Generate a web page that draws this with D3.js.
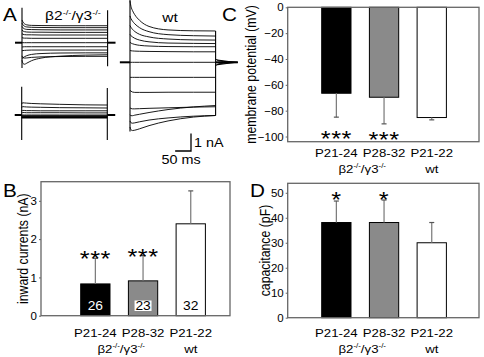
<!DOCTYPE html>
<html>
<head>
<meta charset="utf-8">
<script src="https://cdn.jsdelivr.net/npm/d3@7"></script>
<style>
body { margin: 0; background: #fff; }
text { font-family: "Liberation Sans", Arial, sans-serif; fill: #000; }
</style>
</head>
<body>
<svg id="fig" width="484" height="357"></svg>
<script>
// ---- bar chart data ----
var cats = ["P21-24", "P28-32", "P21-22"]
var barFill = ["#000", "#8a8a8a", "#fff"]
var currentMean = [0.83, 0.91, 2.40]
var currentErr = [0.67, 0.66, 0.86]
var currentN = ["26", "23", "32"]
var currentStars = ["***", "***", ""]
var currentTicks = [0, 1, 2, 3]
var potentialMean = [-66.5, -69.6, -85.3]
var potentialErr = [18.5, 20.6, 1.8]
var potentialStars = ["***", "***", ""]
var potentialTicks = [0, -20, -40, -60, -80, -100]
var capMean = [38.1, 38.1, 30.0]
var capErr = [8.6, 9.0, 8.1]
var capStars = ["*", "*", ""]
var capTicks = [0, 10, 20, 30, 40, 50]

// ---- current traces (nA) sampled at these times (ms) ----
var traceT = [0, 3, 8, 15, 30, 60, 120, 200, 270]
var koUpper = [
    [1.30, 1.18, 1.08, 1.02, 0.99, 0.98, 0.97, 0.97, 0.97],
    [1.12, 1.02, 0.94, 0.90, 0.88, 0.87, 0.86, 0.86, 0.86],
    [0.93, 0.85, 0.79, 0.76, 0.75, 0.74, 0.73, 0.73, 0.73],
    [0.73, 0.67, 0.63, 0.61, 0.60, 0.60, 0.59, 0.59, 0.59],
    [0.52, 0.48, 0.46, 0.45, 0.45, 0.44, 0.44, 0.44, 0.44],
    [0.29, 0.27, 0.26, 0.26, 0.25, 0.25, 0.25, 0.25, 0.25],
    [0, 0, 0, 0, 0, 0, 0, 0, 0],
    [-0.24, -0.24, -0.23, -0.23, -0.23, -0.23, -0.23, -0.23, -0.23],
    [-0.46, -0.45, -0.44, -0.43, -0.42, -0.42, -0.42, -0.42, -0.42],
    [-0.90, -0.86, -0.80, -0.74, -0.67, -0.62, -0.59, -0.58, -0.58],
    [-0.75, -0.85, -0.88, -0.87, -0.84, -0.81, -0.79, -0.78, -0.78],
    [-1.00, -1.18, -1.23, -1.17, -1.03, -0.88, -0.77, -0.71, -0.69]
]
var koLower = [
    [0.62, 0.70, 0.69, 0.68, 0.66, 0.64, 0.61, 0.58, 0.57],
    [0.42, 0.48, 0.47, 0.46, 0.45, 0.44, 0.42, 0.41, 0.40],
    [0.25, 0.26, 0.26, 0.25, 0.25, 0.24, 0.24, 0.24, 0.24],
    [0.13, 0.14, 0.14, 0.13, 0.13, 0.13, 0.13, 0.12, 0.12],
    [0, 0, 0, 0, 0, 0, 0, 0, 0]
]
var koLowerHeavy = [
    [-0.06, -0.06, -0.06, -0.06, -0.06, -0.06, -0.06, -0.06, -0.06],
    [-0.11, -0.11, -0.11, -0.11, -0.11, -0.11, -0.11, -0.11, -0.11],
    [-0.16, -0.16, -0.15, -0.15, -0.15, -0.15, -0.15, -0.15, -0.15]
]
var wtTraces = [
    [3.50, 3.20, 2.95, 2.72, 2.40, 2.05, 1.85, 1.80, 1.79],
    [2.65, 2.50, 2.35, 2.20, 1.98, 1.75, 1.58, 1.52, 1.50],
    [2.10, 2.00, 1.88, 1.76, 1.60, 1.45, 1.33, 1.28, 1.27],
    [1.60, 1.52, 1.45, 1.37, 1.27, 1.17, 1.10, 1.08, 1.07],
    [1.15, 1.10, 1.06, 1.02, 0.97, 0.93, 0.90, 0.89, 0.89],
    [0.68, 0.66, 0.65, 0.64, 0.63, 0.62, 0.61, 0.60, 0.60],
    [0, 0, 0, 0, 0, 0, 0, 0, 0],
    [-0.86, -0.86, -0.86, -0.86, -0.86, -0.86, -0.86, -0.86, -0.86],
    [-1.60, -1.65, -1.70, -1.72, -1.72, -1.72, -1.71, -1.71, -1.71],
    [-2.60, -2.64, -2.66, -2.66, -2.65, -2.63, -2.60, -2.56, -2.54],
    [-3.00, -3.05, -3.05, -3.02, -2.97, -2.87, -2.70, -2.55, -2.47],
    [-3.35, -3.45, -3.48, -3.46, -3.40, -3.30, -3.18, -3.08, -3.04],
    [-3.70, -3.85, -3.90, -3.88, -3.80, -3.62, -3.35, -3.13, -3.04]
]
var tailT = [270, 278, 295, 340]
var wtTail = [
    [0.18, 0.10, 0.05, 0.01],
    [-0.18, -0.10, -0.05, -0.01]
]
// capacitive artifacts at pulse on / off (nA extent)
var koUpperArtifact = [[2.0, -1.45], [1.85, -1.35]]
var koLowerArtifact = [[1.62, -1.43], [1.55, -1.43]]
var wtArtifact = [[3.56, -3.95], [1.79, -3.04]]

var SX = 1.15
var svg = d3.select("#fig")

function label(g, x, y, str, size, anchor) {
    return g.append("text")
        .attr("transform", `translate(${x},${y}) scale(${SX},1)`)
        .attr("font-size", size)
        .attr("text-anchor", anchor || "start")
        .text(str)
}

function genoLabel(g, x, y, size) {
    var t = g.append("text")
        .attr("transform", `translate(${x},${y}) scale(${SX},1)`)
        .attr("font-size", size)
        .attr("text-anchor", "middle")
    t.append("tspan").text("β2")
    t.append("tspan").attr("font-size", size * 0.6).attr("dy", -size * 0.35).text("-/-")
    t.append("tspan").attr("dy", size * 0.35).text("/γ3")
    t.append("tspan").attr("font-size", size * 0.6).attr("dy", -size * 0.35).text("-/-")
    return t
}

// ---------- panel A: traces ----------
var gA = svg.append("g")
var tScale = d3.scaleLinear().domain([0, 270]).range([0, 85.6])
var nA = 17.5

function drawTraces(x0, base, traces, artifact, width) {
    var x = d3.scaleLinear().domain([0, 270]).range([x0, x0 + tScale(270)])
    var y = d3.scaleLinear().domain([0, 1]).range([base, base - nA])
    var line = d3.line()
        .x((d, i) => x(traceT[i]))
        .y(d => y(d))
        .curve(d3.curveMonotoneX)
    gA.append("g").selectAll("path").data(traces).join("path")
        .attr("d", line)
        .attr("fill", "none")
        .attr("stroke", "#000")
        .attr("stroke-width", width || 0.9)
    gA.append("g").selectAll("line").data(artifact).join("line")
        .attr("x1", (d, i) => x(i === 0 ? 0 : 270))
        .attr("x2", (d, i) => x(i === 0 ? 0 : 270))
        .attr("y1", d => y(d[0]))
        .attr("y2", d => y(d[1]))
        .attr("stroke", "#000")
        .attr("stroke-width", 1.1)
    return { x: x, y: y }
}

var up = drawTraces(22, 42.7, koUpper, koUpperArtifact)
var lo = drawTraces(21.7, 115, koLower, koLowerArtifact)
drawTraces(21.7, 115, koLowerHeavy, [], 1.6)
var wt = drawTraces(130, 62.3, wtTraces, wtArtifact)

// holding baselines outside the pulse
function holding(s, pre, post) {
    gA.append("line").attr("x1", s.x(pre[0])).attr("x2", s.x(pre[1]))
        .attr("y1", s.y(0)).attr("y2", s.y(0)).attr("stroke", "#000").attr("stroke-width", 2)
    gA.append("line").attr("x1", s.x(post[0])).attr("x2", s.x(post[1]))
        .attr("y1", s.y(0)).attr("y2", s.y(0)).attr("stroke", "#000").attr("stroke-width", 2)
}
holding(up, [-22, 0], [270, 295])
holding(lo, [-22, 0], [270, 295])
holding(wt, [-32, 0], [270, 340])
var tailLine = d3.line().x((d, i) => wt.x(tailT[i])).y(d => wt.y(d)).curve(d3.curveMonotoneX)
gA.append("g").selectAll("path").data(wtTail).join("path")
    .attr("d", tailLine).attr("fill", "#000").attr("stroke", "#000").attr("stroke-width", 1)

// scale bar
var sbX = 191, sbY = 151
gA.append("path")
    .attr("d", `M${sbX - (tScale(50) - tScale(0))},${sbY}H${sbX}V${sbY - nA}`)
    .attr("fill", "none").attr("stroke", "#000").attr("stroke-width", 1.3)
label(gA, sbX + 3, sbY - 4, "1 nA", 12.5)
label(gA, 181, 164, "50 ms", 12.5, "middle")

label(gA, 3, 21, "A", 18)
genoLabel(gA, 73, 20, 13.5)
label(gA, 170, 22, "wt", 13.5, "middle")

// ---------- bar panels ----------
function barPanel(o) {
    var g = svg.append("g")
    var x = d3.scaleBand().domain(cats).range(o.band).paddingInner(0.386).paddingOuter(0.193)
    var y = d3.scaleLinear().domain(o.domain).range([o.bottom, o.top])
    var bw = x.bandwidth()

    g.selectAll(".bar").data(cats).join("rect")
        .attr("x", d => x(d))
        .attr("width", bw)
        .attr("y", (d, i) => Math.min(y(0), y(o.mean[i])))
        .attr("height", (d, i) => Math.abs(y(o.mean[i]) - y(0)))
        .attr("fill", (d, i) => barFill[i])
        .attr("stroke", "#000")
        .attr("stroke-width", 1)

    var sign = o.down ? -1 : 1
    g.selectAll(".err").data(cats).join("line")
        .attr("x1", d => x(d) + bw / 2).attr("x2", d => x(d) + bw / 2)
        .attr("y1", (d, i) => y(o.mean[i]))
        .attr("y2", (d, i) => y(o.mean[i] + sign * o.err[i]))
        .attr("stroke", "#777").attr("stroke-width", 1.2)
    g.selectAll(".cap").data(cats).join("line")
        .attr("x1", d => x(d) + bw / 2 - 2.5).attr("x2", d => x(d) + bw / 2 + 2.5)
        .attr("y1", (d, i) => y(o.mean[i] + sign * o.err[i]))
        .attr("y2", (d, i) => y(o.mean[i] + sign * o.err[i]))
        .attr("stroke", "#555").attr("stroke-width", 1.2)

    // frame
    g.append("rect")
        .attr("x", o.left).attr("y", o.top)
        .attr("width", o.right - o.left).attr("height", o.bottom - o.top)
        .attr("fill", "none").attr("stroke", "#666").attr("stroke-width", 1.3)

    var ax = g.append("g").attr("transform", `translate(${o.left},0)`)
        .call(d3.axisLeft(y).tickValues(o.ticks).tickFormat(d3.format("d")).tickSize(2).tickPadding(2))
    ax.select(".domain").remove()
    ax.selectAll("line").attr("stroke", "#666")
    ax.selectAll("text")
        .attr("font-family", "Liberation Sans, Arial, sans-serif")
        .attr("font-size", 11.5)

    g.append("text")
        .attr("transform", `translate(${o.ylabX},${(o.top + o.bottom) / 2}) rotate(-90) scale(1,${SX})`)
        .attr("text-anchor", "middle").attr("font-size", 12.3)
        .text(o.ylab)

    // significance stars
    cats.forEach((c, i) => {
        if (!o.stars[i]) return
        var end = o.mean[i] + sign * o.err[i]
        g.append("text")
            .attr("transform", `translate(${x(c) + bw / 2},${o.starY(y(end), i)}) scale(${SX},1)`)
            .attr("text-anchor", "middle").attr("font-size", 22)
            .attr("letter-spacing", 0.5)
            .text(o.stars[i])
    })

    // category labels
    cats.forEach((c, i) => label(g, x(c) + bw / 2, o.labY, c, 11.5, "middle"))
    genoLabel(g, (x(cats[0]) + x(cats[1]) + bw) / 2 + 2, o.labY + 15.5, 11.5)
    label(g, x(cats[2]) + bw / 2, o.labY + 15.5, "wt", 11.5, "middle")

    label(g, o.letter[1], o.letter[2], o.letter[0], 18)
    return { g: g, x: x, y: y, bw: bw }
}

var pB = barPanel({
    left: 41, right: 230, top: 181.7, bottom: 315.7, band: [71.5, 214.6],
    domain: [0, 3.5], ticks: currentTicks, mean: currentMean, err: currentErr,
    stars: currentStars, starY: (ye, i) => ye + 8, ylab: "inward currents (nA)", ylabX: 27.5,
    labY: 337, letter: ["B", 3, 197]
})
// cell counts inside bars
cats.forEach((c, i) => {
    var cx = pB.x(c) + pB.bw / 2
    if (i === 1) {
        pB.g.append("rect").attr("x", cx - 8.5).attr("y", 300.5).attr("width", 17).attr("height", 10.5)
            .attr("fill", "#fff")
    }
    label(pB.g, cx, 310, currentN[i], 12, "middle").style("fill", i === 0 ? "#fff" : "#000")
})

barPanel({
    left: 287.7, right: 479, top: 7.3, bottom: 141.7, band: [312.5, 455.6],
    domain: [-104, 0], ticks: potentialTicks, mean: potentialMean, err: potentialErr, down: true,
    stars: potentialStars, starY: (ye, i) => i === 0 ? 145.8 : 147.3, ylab: "membrane potential (mV)", ylabX: 255.5,
    labY: 157, letter: ["C", 222, 21]
})

barPanel({
    left: 287.7, right: 479, top: 183.3, bottom: 317.7, band: [312.5, 455.6],
    domain: [0, 53.8], ticks: capTicks, mean: capMean, err: capErr,
    stars: capStars, starY: (ye, i) => 206.8, ylab: "capacitance (pF)", ylabX: 269.5,
    labY: 337, letter: ["D", 250, 197]
})
</script>
</body>
</html>
